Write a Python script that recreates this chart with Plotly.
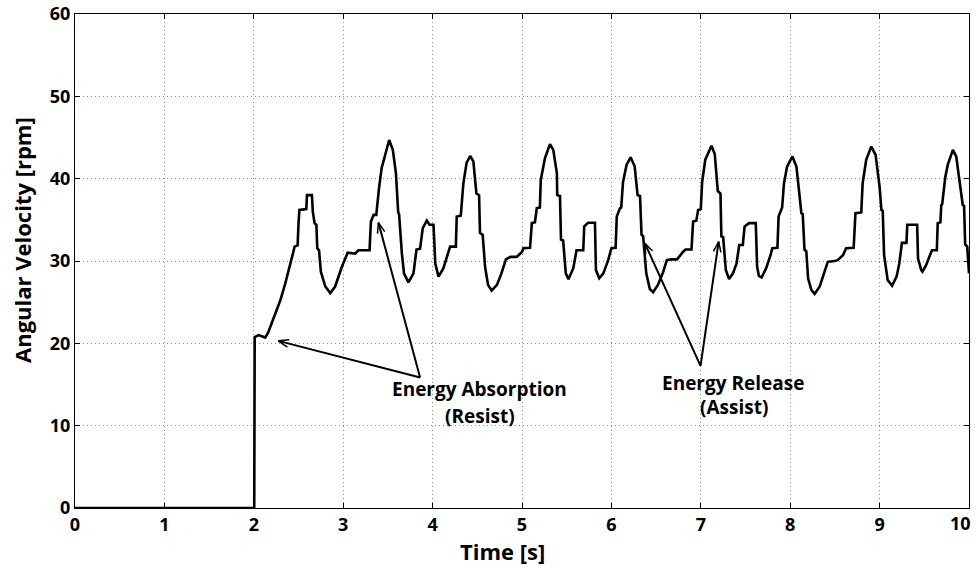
import math
import plotly.graph_objects as go

# ---------------- data ----------------
time_s = [0.0, 2.005, 2.01, 2.03, 2.054, 2.09, 2.128, 2.16, 2.20, 2.25, 2.296, 2.35, 2.408, 2.44, 2.456,
          2.49, 2.50, 2.51, 2.587, 2.595, 2.65, 2.66, 2.68, 2.70, 2.71, 2.73, 2.75, 2.80, 2.855, 2.91,
          2.985, 3.05, 3.134, 3.17, 3.295, 3.31, 3.34, 3.37, 3.40, 3.43, 3.46, 3.514, 3.555, 3.59,
          3.615, 3.625, 3.656, 3.68, 3.73, 3.786, 3.82, 3.86, 3.89, 3.935, 3.965, 4.01, 4.03, 4.066,
          4.12, 4.19, 4.196, 4.26, 4.27, 4.315, 4.344, 4.38, 4.42, 4.456, 4.49, 4.52, 4.53, 4.56,
          4.587, 4.62, 4.66, 4.72, 4.77, 4.82, 4.87, 4.94, 5.0, 5.015, 5.09, 5.11, 5.145, 5.165, 5.20,
          5.21, 5.257, 5.313, 5.35, 5.39, 5.394, 5.425, 5.436, 5.46, 5.49, 5.52, 5.573, 5.61, 5.685,
          5.696, 5.74, 5.816, 5.827, 5.864, 5.91, 5.964, 6.0, 6.047, 6.06, 6.095, 6.11, 6.13, 6.17,
          6.215, 6.26, 6.293, 6.32, 6.337, 6.355, 6.39, 6.43, 6.467, 6.52, 6.58, 6.62, 6.67, 6.735,
          6.80, 6.83, 6.896, 6.914, 6.95, 6.97, 7.0, 7.015, 7.05, 7.12, 7.156, 7.19, 7.22, 7.23, 7.25,
          7.28, 7.316, 7.36, 7.40, 7.43, 7.47, 7.49, 7.54, 7.615, 7.63, 7.65, 7.68, 7.73, 7.78, 7.80,
          7.857, 7.87, 7.91, 7.93, 7.965, 8.025, 8.07, 8.106, 8.125, 8.14, 8.16, 8.18, 8.20, 8.236,
          8.274, 8.33, 8.378, 8.42, 8.497, 8.53, 8.59, 8.626, 8.71, 8.73, 8.795, 8.81, 8.85, 8.907,
          8.955, 9.0, 9.02, 9.035, 9.05, 9.07, 9.09, 9.14, 9.19, 9.22, 9.25, 9.30, 9.31, 9.42, 9.43,
          9.466, 9.48, 9.52, 9.566, 9.585, 9.64, 9.65, 9.68, 9.69, 9.70, 9.735, 9.763, 9.82, 9.857,
          9.905, 9.93, 9.945, 9.957, 9.98, 10.0]
velocity_rpm = [0, 0, 20.75, 20.9, 21.0, 20.85, 20.7, 21.3, 22.45, 23.7, 25.2, 27.2, 29.5, 31.0, 31.75,
                31.9, 34.5, 36.2, 36.3, 38.0, 38.0, 36.0, 34.6, 34.4, 31.55, 31.3, 28.7, 26.9, 26.1, 26.9,
                29.3, 31.0, 30.9, 31.3, 31.3, 34.8, 35.6, 35.6, 38.8, 41.3, 42.5, 44.7, 43.5, 40.65,
                35.9, 35.7, 30.95, 28.5, 27.4, 28.5, 31.4, 31.5, 34.0, 34.9, 34.4, 34.4, 29.7, 28.1,
                29.1, 31.35, 31.75, 31.75, 35.4, 35.5, 39.4, 41.9, 42.75, 42.1, 38.2, 38.0, 33.4, 33.2,
                29.3, 27.1, 26.4, 27.1, 28.5, 30.2, 30.5, 30.5, 31.1, 31.55, 31.6, 34.6, 34.7, 36.4, 36.5,
                39.85, 42.5, 44.2, 43.5, 40.65, 38.0, 37.9, 32.6, 32.5, 28.5, 27.8, 29.1, 31.3, 31.3,
                34.2, 34.65, 34.65, 28.9, 27.9, 28.5, 30.1, 31.55, 31.6, 35.4, 36.4, 36.5, 39.6, 41.7,
                42.6, 41.5, 38.0, 37.9, 33.2, 33.0, 28.5, 26.6, 26.2, 27.1, 28.7, 30.1, 30.2, 30.2,
                31.1, 31.4, 31.4, 34.8, 34.9, 36.2, 36.3, 39.6, 42.3, 44.0, 43.0, 38.5, 38.2, 33.0, 32.9,
                28.9, 27.8, 28.5, 29.7, 31.95, 31.95, 34.2, 34.6, 34.6, 29.3, 28.2, 28.0, 29.1, 30.7, 31.55,
                31.6, 35.4, 36.5, 39.4, 41.45, 42.7, 41.45, 38.2, 35.8, 35.7, 31.35, 31.2, 27.9, 26.5,
                26.0, 26.9, 28.5, 29.9, 30.0, 30.1, 30.7, 31.55, 31.6, 35.8, 35.9, 39.4, 42.3, 43.9,
                42.9, 39.0, 36.2, 36.1, 30.75, 29.3, 27.7, 27.0, 28.1, 29.7, 32.2, 32.2, 34.4, 34.4, 30.3,
                28.9, 28.7, 29.5, 30.95, 31.3, 31.3, 34.6, 34.7, 36.8, 36.9, 40.2, 41.7, 43.5, 42.7,
                39.2, 36.8, 36.7, 32.0, 31.75, 28.5]

x_ticks = [0, 1, 2, 3, 4, 5, 6, 7, 8, 9, 10]
y_ticks = [0, 10, 20, 30, 40, 50, 60]

# annotation arrows: (tail_t, tail_v, tip_t, tip_v)
absorption_arrows = [(3.86, 15.85, 2.274, 20.3), (3.86, 15.85, 3.394, 34.66)]
release_arrows = [(6.997, 17.27, 6.374, 32.16), (6.997, 17.27, 7.20, 32.35)]

# ---------------- layout constants ----------------
W, H = 977, 569
ML, MR, MT, MB = 75, 8, 14, 61
PW, PH = W - ML - MR, H - MT - MB
XR, YR = (0, 10), (0, 60)
sx = PW / (XR[1] - XR[0])
sy = PH / (YR[1] - YR[0])

FONT = "Open Sans"

fig = go.Figure()
fig.add_trace(go.Scatter(x=time_s, y=velocity_rpm, mode="lines",
                         line=dict(color="black", width=2.6), hoverinfo="skip",
                         showlegend=False, cliponaxis=False))

shapes = []
def arrow(tail_t, tail_v, tip_t, tip_v, L=11, ang=20):
    shapes.append(dict(type="line", xref="x", yref="y", x0=tail_t, y0=tail_v, x1=tip_t, y1=tip_v,
                       line=dict(color="black", width=2)))
    dx = (tip_t - tail_t) * sx
    dy = -(tip_v - tail_v) * sy
    n = math.hypot(dx, dy)
    ux, uy = dx / n, dy / n
    for s in (1, -1):
        a = math.radians(ang) * s
        rx = ux * math.cos(a) - uy * math.sin(a)
        ry = ux * math.sin(a) + uy * math.cos(a)
        hx = tip_t - L * rx / sx
        hy = tip_v + L * ry / sy
        shapes.append(dict(type="line", xref="x", yref="y", x0=tip_t, y0=tip_v, x1=hx, y1=hy,
                           line=dict(color="black", width=1.5)))

for a in absorption_arrows + release_arrows:
    arrow(*a)

def px_to_paper_x(p):
    return (p - ML) / PW
def px_to_paper_y(p):
    return (H - MB - p) / PH

lab_font = dict(family=FONT, size=19, color="black")
title_font = dict(family=FONT, size=22, color="black")
tick_font = dict(family=FONT, size=18, color="black")
annotations = [
    dict(text="<b>Energy Absorption</b>", x=4.525, y=14.45, xref="x", yref="y", showarrow=False,
         font=lab_font, xanchor="center", yanchor="middle"),
    dict(text="<b>(Resist)</b>", x=4.525, y=11.17, xref="x", yref="y", showarrow=False,
         font=lab_font, xanchor="center", yanchor="middle"),
    dict(text="<b>Energy Release</b>", x=7.36, y=15.22, xref="x", yref="y", showarrow=False,
         font=lab_font, xanchor="center", yanchor="middle"),
    dict(text="<b>(Assist)</b>", x=7.366, y=12.3, xref="x", yref="y", showarrow=False,
         font=lab_font, xanchor="center", yanchor="middle"),
    dict(text="<b>Time [s]</b>", x=px_to_paper_x(502), y=px_to_paper_y(551), xref="paper", yref="paper",
         showarrow=False, font=title_font, xanchor="center", yanchor="middle"),
    dict(text="<b>Angular Velocity [rpm]</b>", x=px_to_paper_x(22), y=px_to_paper_y(240), xref="paper",
         yref="paper", showarrow=False, textangle=-90, font=title_font,
         xanchor="center", yanchor="middle"),
    # last x tick label, shifted left so it stays inside the figure (as in the reference)
    dict(text=f"<b>{x_ticks[-1]}</b>", x=x_ticks[-1], y=px_to_paper_y(523), xref="x", yref="paper",
         showarrow=False, font=tick_font, xanchor="right", yanchor="middle", xshift=4),
]

axis_common = dict(showline=True, linecolor="black", linewidth=1, mirror="ticks",
                   ticks="inside", ticklen=5, tickcolor="black", tickwidth=1,
                   showgrid=True, gridcolor="#8a8a8a", gridwidth=1, griddash="1px,3px",
                   zeroline=False, tickfont=tick_font)

x_ticktext = [f"<b>{v}</b>" for v in x_ticks[:-1]] + [""]

fig.update_layout(
    width=W, height=H, margin=dict(l=ML, r=MR, t=MT, b=MB, pad=0, autoexpand=False),
    paper_bgcolor="white", plot_bgcolor="white",
    xaxis=dict(range=list(XR), tickvals=x_ticks, ticktext=x_ticktext, **axis_common),
    yaxis=dict(range=list(YR), tickvals=y_ticks, ticktext=[f"<b>{v}</b>" for v in y_ticks], **axis_common),
    shapes=shapes, annotations=annotations,
)

fig.write_html("out.html")
